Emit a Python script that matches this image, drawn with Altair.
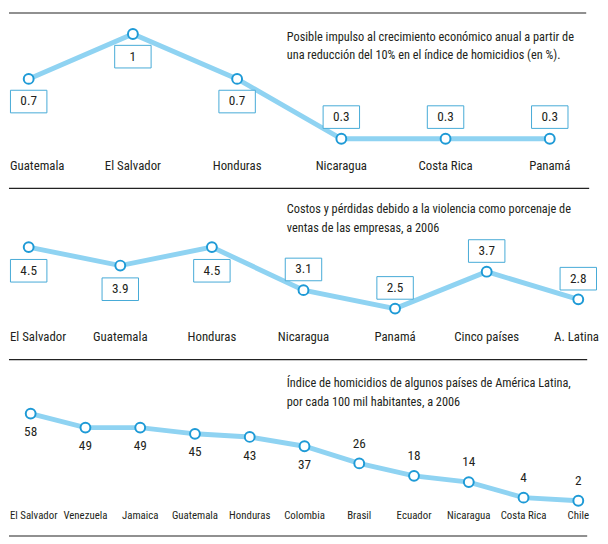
import altair as alt
import pandas as pd

# ---- data ----
cats1 = ["Guatemala", "El Salvador", "Honduras", "Nicaragua", "Costa Rica", "Panamá"]
vals1 = [0.7, 1, 0.7, 0.3, 0.3, 0.3]
side1 = ["below", "below", "below", "above", "above", "above"]
title1 = ["Posible impulso al crecimiento económico anual a partir de",
          "una reducción del 10% en el índice de homicidios (en %)."]

cats2 = ["El Salvador", "Guatemala", "Honduras", "Nicaragua", "Panamá", "Cinco países", "A. Latina"]
vals2 = [4.5, 3.9, 4.5, 3.1, 2.5, 3.7, 2.8]
side2 = ["below", "below", "below", "above", "above", "above", "above"]
title2 = ["Costos y pérdidas debido a la violencia como porcenaje de",
          "ventas de las empresas, a 2006"]

cats3 = ["El Salvador", "Venezuela", "Jamaica", "Guatemala", "Honduras", "Colombia",
         "Brasil", "Ecuador", "Nicaragua", "Costa Rica", "Chile"]
vals3 = [58, 49, 49, 45, 43, 37, 26, 18, 14, 4, 2]
side3 = ["below"] * 6 + ["above"] * 5
title3 = ["Índice de homicidios de algunos países de América Latina,",
          "por cada 100 mil habitantes, a 2006"]

# ---- style ----
FONT = "Roboto Condensed"
LINE = "#8fd3f2"
PT = "#1e9ad6"
BOXC = "#45aad6"
TXT = "#231f20"
BOX = "M-1,-0.62L1,-0.62L1,0.62L-1,0.62Z"
W = 600


def panel(cats, vals, sides, title, xdom, ydom, h, title_y, cat_y, cat_size,
          boxed, dy_below, dy_above, top_rule, bottom_rule=None, rule_x2=587):
    n = len(cats)
    df = pd.DataFrame({"i": list(range(n)), "cat": cats, "v": vals,
                       "lab": [f"{v:g}" for v in vals], "side": sides})
    xenc = alt.X("i:Q", scale=alt.Scale(domain=xdom, nice=False, zero=False), axis=None)
    yenc = alt.Y("v:Q", scale=alt.Scale(domain=ydom, nice=False, zero=False), axis=None)
    base = alt.Chart(df).encode(x=xenc, y=yenc)
    layers = [base.mark_line(color=LINE, strokeWidth=5)]
    for side, dy in (("below", dy_below), ("above", dy_above)):
        sub = base.transform_filter(alt.datum.side == side)
        if boxed:
            layers.append(sub.mark_point(shape=BOX, size=1369, filled=True, fill="white",
                                         stroke=BOXC, strokeWidth=1, opacity=1, yOffset=dy))
        layers.append(sub.mark_text(font=FONT, fontSize=13.5, color=TXT, dy=dy,
                                    baseline="middle", align="center").encode(text="lab:N"))
    layers.append(base.mark_point(shape="circle", size=100, filled=True, fill="white",
                                  stroke=PT, strokeWidth=2, opacity=1))

    # category labels: keep edge labels inside the panel
    def px(i):
        return (i - xdom[0]) / (xdom[1] - xdom[0]) * W

    def est_w(s):
        return len(s) * cat_size * 0.43

    cat_base = alt.Chart(df).encode(x=xenc, y=alt.value(cat_y), text="cat:N")
    first_left = px(0) - est_w(cats[0]) / 2 < 1
    last_right = px(n - 1) + est_w(cats[-1]) / 2 > W - 1
    lo = 1 if first_left else 0
    hi = n - 2 if last_right else n - 1
    layers.append(cat_base.transform_filter((alt.datum.i >= lo) & (alt.datum.i <= hi))
                  .mark_text(font=FONT, fontSize=cat_size, color=TXT, baseline="middle", align="center"))
    if first_left:
        layers.append(cat_base.transform_filter(alt.datum.i == 0)
                      .mark_text(font=FONT, fontSize=cat_size, color=TXT, baseline="middle",
                                 align="left", dx=1 - px(0)))
    if last_right:
        layers.append(cat_base.transform_filter(alt.datum.i == n - 1)
                      .mark_text(font=FONT, fontSize=cat_size, color=TXT, baseline="middle",
                                 align="right", dx=W - 1 - px(n - 1)))

    dummy = pd.DataFrame({"a": [0]})
    for k, line in enumerate(title):
        layers.append(alt.Chart(dummy).mark_text(font=FONT, fontSize=12.5, color=TXT,
                                                 align="left", baseline="middle")
                      .encode(x=alt.value(282), y=alt.value(title_y + 19 * k), text=alt.value(line)))
    layers.append(alt.Chart(dummy).mark_rule(color="#222222", strokeWidth=1.2)
                  .encode(x=alt.value(0), x2=alt.value(rule_x2), y=alt.value(top_rule)))
    if bottom_rule is not None:
        layers.append(alt.Chart(dummy).mark_rule(color="#222222", strokeWidth=1.2)
                      .encode(x=alt.value(0), x2=alt.value(rule_x2), y=alt.value(bottom_rule)))
    return alt.layer(*layers).properties(width=W, height=h)


p1 = panel(cats1, vals1, side1, title1, [-0.189, 5.482], [-0.031, 1.147], 179,
           25, 156, 13, True, 23, -22, 1, rule_x2=586)
p2 = panel(cats2, vals2, side2, title2, [-0.215, 6.237], [0.837, 6.413], 174,
           21, 151, 13, True, 24, -21, 0, rule_x2=589)
p3 = panel(cats3, vals3, side3, title3, [-0.396, 10.396], [-21.94, 92.62], 181,
           24, 159, 11, False, 19, -20, 0, bottom_rule=179, rule_x2=587)

chart = (alt.vconcat(p1, p2, p3, spacing=0, bounds="flush")
         .properties(padding=0)
         .configure_view(strokeWidth=0))

chart.save("out.html", embed_options={"renderer": "svg", "actions": False})
